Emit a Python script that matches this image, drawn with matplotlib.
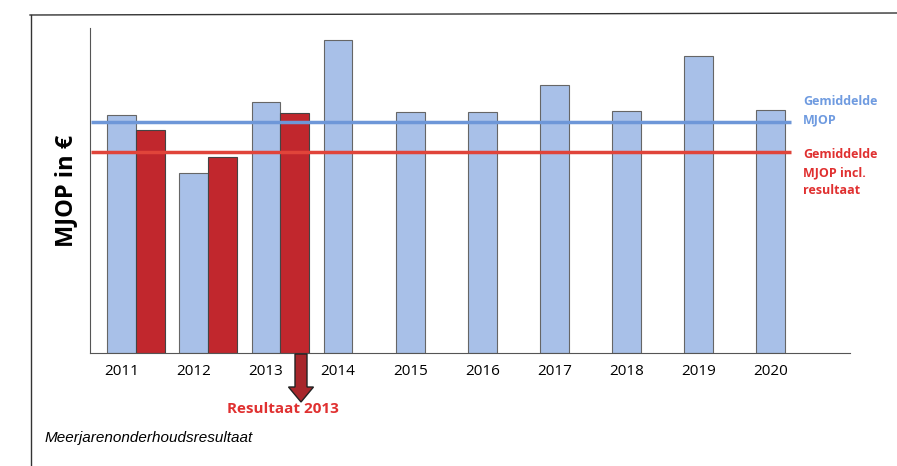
import numpy as np
import matplotlib.pyplot as plt
from matplotlib.lines import Line2D
from matplotlib.patches import FancyArrow

# Gegevens (willekeurige eenheden)
jaren = ['2011', '2012', '2013', '2014', '2015', '2016', '2017', '2018', '2019', '2020']
mjop = [238, 180, 251, 313, 241, 241, 268, 242, 297, 243]
resultaat = [223, 196, 240]
gem_mjop = 231
gem_incl = 201

blauw = '#a8c0e8'
rood = '#c1272d'

plt.rcParams['font.family'] = ['Open Sans', 'DejaVu Sans']

fig = plt.figure(figsize=(8.97, 4.66), dpi=100)
ax = fig.add_axes([90/897, 113/466, 760/897, 325/466])

x = np.arange(len(jaren))
breedte = 0.4
ax.bar(x, mjop, width=breedte, color=blauw, edgecolor='#666666', linewidth=0.8, zorder=2)
ax.bar(x[:len(resultaat)] + breedte, resultaat, width=breedte, color=rood,
       edgecolor='#444444', linewidth=0.8, zorder=2)

# gemiddelde lijnen
ax.hlines(gem_mjop, -0.42, 9.28, color='#6e97d8', linewidth=2.5, zorder=3)
ax.hlines(gem_incl, -0.42, 9.28, color='#e0443a', linewidth=2.5, zorder=3)

ax.set_xlim(-0.44, 10.1)
ax.set_ylim(0, 325)
ax.set_xticks(x)
ax.set_xticklabels(jaren, fontsize=11)
ax.tick_params(axis='x', length=0, pad=8)
ax.set_yticks([])
for s in ['top', 'right']:
    ax.spines[s].set_visible(False)
ax.spines['left'].set_color('#555555')
ax.spines['bottom'].set_color('#555555')

ax.set_ylabel('MJOP in €', fontsize=17, fontweight='bold')
ax.yaxis.set_label_coords(-0.016, 0.5)

# labels rechts
fig.text(803/897, 1 - 95/466, 'Gemiddelde\nMJOP', color='#6f9be0', fontsize=9,
         fontweight='bold', va='top', ha='left', linespacing=1.5)
fig.text(803/897, 1 - 148/466, 'Gemiddelde\nMJOP incl.\nresultaat', color='#e03030',
         fontsize=9, fontweight='bold', va='top', ha='left', linespacing=1.5)

# pijl onder 2013
pijl = FancyArrow(301/897, 1 - 354/466, 0, -48/466, width=12/897, head_width=25/897,
                  head_length=15/466, length_includes_head=True,
                  facecolor='#a8262b', edgecolor='#222222', linewidth=1,
                  transform=fig.transFigure)
fig.add_artist(pijl)
fig.text(283/897, 1 - 409/466, 'Resultaat 2013', color='#e03030', fontsize=11,
         fontweight='bold', ha='center', va='center')

# bijschrift
fig.text(45/897, 1 - 438/466, 'Meerjarenonderhoudsresultaat', fontsize=11,
         style='italic', family='Liberation Sans', ha='left', va='center')

# kader
fig.add_artist(Line2D([30/897, 1.0], [1 - 15/466, 1 - 13/466], color='#333333', linewidth=1))
fig.add_artist(Line2D([31/897, 31/897], [1 - 15/466, 0], color='#333333', linewidth=1))

plt.savefig('out.png', dpi=100)
